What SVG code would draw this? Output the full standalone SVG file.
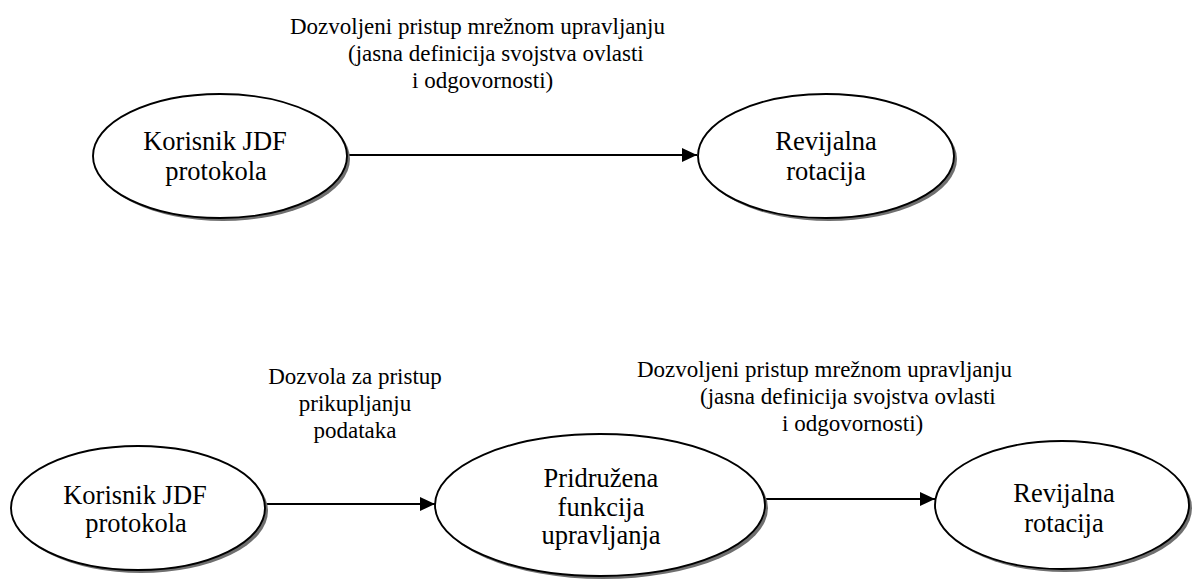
<svg xmlns="http://www.w3.org/2000/svg" width="1202" height="581" viewBox="0 0 1202 581">
<style>
.shadow{fill:#6f6f6f;stroke:none}
.node{fill:#fff;stroke:#000;stroke-width:1.9}
text{font-family:'Liberation Serif','Times New Roman',Times,'DejaVu Serif',serif;fill:#000}
.nt{font-size:26.5px;text-anchor:middle}
.lt{font-size:23px}
.edge{stroke:#000;stroke-width:2;fill:none}
</style>
<defs>
<marker id="ah" markerUnits="userSpaceOnUse" markerWidth="16" markerHeight="14" refX="15" refY="7" orient="auto">
<path d="M0,0 L15,7 L0,14 Z" fill="#000"/>
</marker>
</defs>
<rect width="1202" height="581" fill="#fff"/>
<g id="connectors">
<line class="edge" x1="348" y1="155" x2="697" y2="155" marker-end="url(#ah)"/>
<line class="edge" x1="266" y1="504" x2="435" y2="504" marker-end="url(#ah)"/>
<line class="edge" x1="766" y1="499" x2="935" y2="499" marker-end="url(#ah)"/>
</g>
<g id="n1">
<ellipse class="shadow" cx="223" cy="159" rx="127" ry="62"/>
<ellipse class="node" cx="220" cy="156" rx="127" ry="62"/>
<text class="nt" x="215" y="150" font-family="Liberation Serif">Korisnik JDF</text>
<text class="nt" x="216" y="180" font-family="Liberation Serif">protokola</text>
</g>
<g id="n2">
<ellipse class="shadow" cx="829" cy="159" rx="128" ry="62"/>
<ellipse class="node" cx="826" cy="156" rx="128" ry="62"/>
<text class="nt" x="826" y="150" font-family="Liberation Serif">Revijalna</text>
<text class="nt" x="826" y="180" font-family="Liberation Serif">rotacija</text>
</g>
<g id="n3">
<ellipse class="shadow" cx="141" cy="511" rx="127" ry="62"/>
<ellipse class="node" cx="138" cy="508" rx="127" ry="62"/>
<text class="nt" x="135" y="504" font-family="Liberation Serif">Korisnik JDF</text>
<text class="nt" x="136" y="532" font-family="Liberation Serif">protokola</text>
</g>
<g id="n4">
<ellipse class="shadow" cx="603" cy="508" rx="165" ry="71"/>
<ellipse class="node" cx="600" cy="505" rx="165" ry="71"/>
<text class="nt" x="601" y="487" font-family="Liberation Serif">Pridružena</text>
<text class="nt" x="601" y="516" font-family="Liberation Serif">funkcija</text>
<text class="nt" x="601" y="544" font-family="Liberation Serif">upravljanja</text>
</g>
<g id="n5">
<ellipse class="shadow" cx="1065" cy="508" rx="127" ry="64"/>
<ellipse class="node" cx="1062" cy="505" rx="127" ry="64"/>
<text class="nt" x="1064" y="502" font-family="Liberation Serif">Revijalna</text>
<text class="nt" x="1064" y="532" font-family="Liberation Serif">rotacija</text>
</g>
<g id="labels">
<text class="lt" x="290" y="34" font-family="Liberation Serif">Dozvoljeni pristup mrežnom upravljanju</text>
<text class="lt" x="348" y="61" font-family="Liberation Serif">(jasna definicija svojstva ovlasti</text>
<text class="lt" x="412" y="88" font-family="Liberation Serif">i odgovornosti)</text>
<text class="lt" x="355" y="384" text-anchor="middle" font-family="Liberation Serif">Dozvola za pristup</text>
<text class="lt" x="355" y="411" text-anchor="middle" font-family="Liberation Serif">prikupljanju</text>
<text class="lt" x="355" y="438" text-anchor="middle" font-family="Liberation Serif">podataka</text>
<text class="lt" x="637" y="377" font-family="Liberation Serif">Dozvoljeni pristup mrežnom upravljanju</text>
<text class="lt" x="700" y="404" font-family="Liberation Serif">(jasna definicija svojstva ovlasti</text>
<text class="lt" x="782" y="431" font-family="Liberation Serif">i odgovornosti)</text>
</g>
</svg>
